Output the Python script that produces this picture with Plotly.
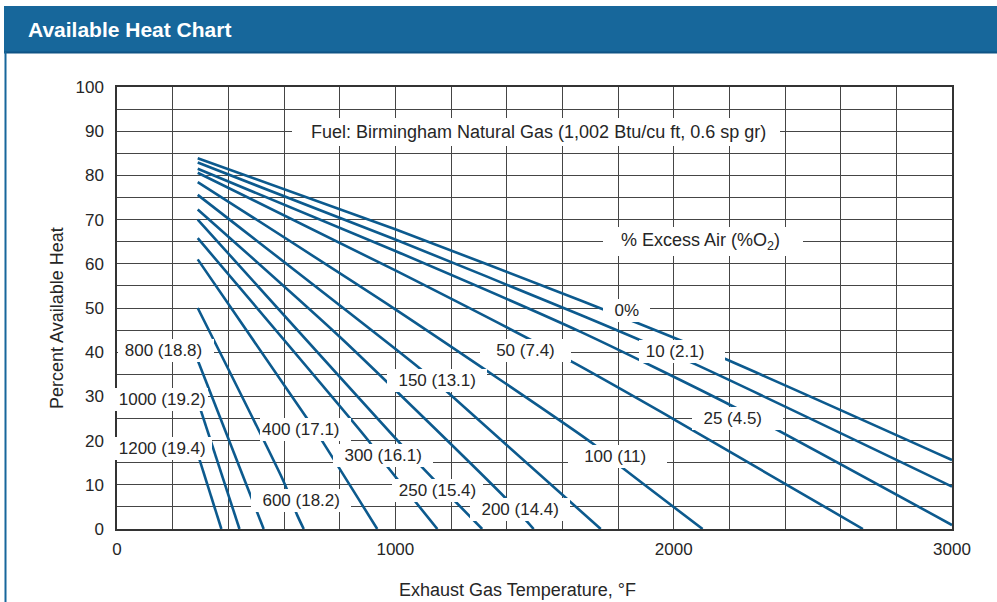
import plotly.graph_objects as go

# ---------------- data ----------------
excess_air_labels = ["0%", "10 (2.1)", "25 (4.5)", "50 (7.4)", "100 (11)", "150 (13.1)",
                     "200 (14.4)", "250 (15.4)", "300 (16.1)", "400 (17.1)", "600 (18.2)",
                     "800 (18.8)", "1000 (19.2)", "1200 (19.4)"]

temp_0 = [290, 1000, 1666, 2169, 3000]
heat_0 = [83.9, 67.8, 51.7, 38.9, 15.6]
temp_10 = [290, 1000, 1666, 2073, 3000]
heat_10 = [82.9, 65.5, 48.4, 37.4, 9.6]
temp_25 = [290, 1000, 1666, 2205, 3000]
heat_25 = [81.5, 62.9, 44.6, 28.0, 0.9]
temp_50 = [290, 1000, 1624, 2007, 2680]
heat_50 = [80.6, 58.5, 38.2, 24.6, 0.0]
temp_100 = [290, 1000, 1708, 1817, 2104]
heat_100 = [78.5, 49.7, 19.4, 13.8, 0.0]
temp_150 = [290, 1073, 1187, 1738]
heat_150 = [75.6, 37.1, 31.0, 0.0]
temp_200 = [290, 800, 1402, 1497]
heat_200 = [72.3, 43.5, 6.6, 0.0]
temp_250 = [290, 1084, 1205, 1312]
heat_250 = [70.0, 14.8, 6.9, 0.0]
temp_300 = [290, 907, 958, 1151]
heat_300 = [65.8, 19.7, 15.2, 0.0]
temp_400 = [290, 683, 731, 935]
heat_400 = [61.0, 25.0, 20.5, 0.0]
temp_600 = [290, 599, 647, 671]
heat_600 = [50.0, 10.7, 3.2, 0.0]
temp_800 = [290, 527]
heat_800 = [38.2, 0.0]
temp_1000 = [290, 440]
heat_1000 = [29.0, 0.0]
temp_1200 = [290, 375]
heat_1200 = [17.0, 0.0]

series_temps = [temp_0, temp_10, temp_25, temp_50, temp_100, temp_150, temp_200,
                temp_250, temp_300, temp_400, temp_600, temp_800, temp_1000, temp_1200]
series_heats = [heat_0, heat_10, heat_25, heat_50, heat_100, heat_150, heat_200,
                heat_250, heat_300, heat_400, heat_600, heat_800, heat_1000, heat_1200]

# label anchor points (temperature, percent heat) where each curve label sits
label_temp = [1829, 2030, 2231, 1466, 1798, 1149, 1448, 1153, 956, 677, 661, 176, 153, 162]
label_heat = [49.5, 40.1, 25.0, 40.4, 16.4, 33.7, 4.3, 8.8, 16.7, 22.5, 6.4, 40.3, 29.3, 18.2]

x_ticks = [0, 1000, 2000, 3000]
y_ticks = [0, 10, 20, 30, 40, 50, 60, 70, 80, 90, 100]

title_text = "Available Heat Chart"
fuel_text = "Fuel: Birmingham Natural Gas (1,002 Btu/cu ft, 0.6 sp gr)"
excess_text = "% Excess Air (%O<sub>2</sub>)"
x_title = "Exhaust Gas Temperature, °F"
y_title = "Percent Available Heat"

# ---------------- styling helpers ----------------
W, H = 997, 602
ML, MR, MT, MB = 117, 45, 87, 73
PW, PH = W - ML - MR, H - MT - MB


def px_x(px):
    return (px - ML) / PW


def px_y(py):
    return (H - MB - py) / PH


NB = "\u00a0"
# white-box padding (non-breaking spaces left/right) around each curve label
label_pad_left = [2, 1, 2, 3, 3, 2, 2, 1, 2, 0, 2, 1, 1, 1]
label_pad_right = [2, 4, 4, 3, 4, 2, 2, 1, 2, 2, 2, 2, 0, 1]

FONT = "Liberation Sans Narrow, Arial Narrow, Liberation Sans, Arial, sans-serif"
TXT = "#262626"
LINE = "#0c5a8e"
BLUE = "#17679b"
GRID = "#454545"

fig = go.Figure()
for name, t, h in zip(excess_air_labels, series_temps, series_heats):
    fig.add_trace(go.Scatter(x=t, y=h, mode="lines", name=name,
                             line=dict(color=LINE, width=2.6, shape="spline", smoothing=0.6),
                             hoverinfo="name+x+y", showlegend=False))

annotations = []
for name, t, h, pl, pr in zip(excess_air_labels, label_temp, label_heat, label_pad_left, label_pad_right):
    annotations.append(dict(x=t, y=h, xref="x", yref="y", text=NB * pl + name + NB * pr,
                            showarrow=False, font=dict(family=FONT, size=17, color=TXT),
                            bgcolor="white", borderpad=2, borderwidth=0))

annotations.append(dict(x=1505, y=89.8, xref="x", yref="y", text=NB * 3 + fuel_text + NB * 2,
                        showarrow=False, font=dict(family=FONT, size=18, color=TXT),
                        bgcolor="white", borderpad=4, borderwidth=0))
annotations.append(dict(x=2105, y=65.0, xref="x", yref="y", text=NB * 3 + excess_text + NB * 4,
                        showarrow=False, font=dict(family=FONT, size=18, color=TXT),
                        bgcolor="white", borderpad=3, borderwidth=0))

annotations.append(dict(x=px_x(517), y=px_y(590), xref="paper", yref="paper", text=x_title,
                        xanchor="center", yanchor="middle",
                        showarrow=False, font=dict(family=FONT, size=18, color=TXT)))
annotations.append(dict(x=px_x(57), y=px_y(318), xref="paper", yref="paper", text=y_title,
                        xanchor="center", yanchor="middle",
                        textangle=-90, showarrow=False, font=dict(family=FONT, size=18, color=TXT)))
annotations.append(dict(x=px_x(26), y=px_y(29), xref="paper", yref="paper", text="<b>" + title_text + "</b>",
                        xanchor="left", yanchor="middle", showarrow=False,
                        font=dict(family=FONT, size=21, color="white")))

shapes = [
    dict(type="rect", xref="paper", yref="paper", x0=px_x(4), x1=px_x(1000), y0=px_y(52), y1=px_y(6),
         fillcolor=BLUE, line=dict(width=0), layer="below"),
    dict(type="line", xref="paper", yref="paper", x0=px_x(4), x1=px_x(1000), y0=px_y(52.5), y1=px_y(52.5),
         line=dict(color="#0f5485", width=2)),
    dict(type="line", xref="paper", yref="paper", x0=px_x(5.5), x1=px_x(5.5), y0=px_y(52), y1=px_y(605),
         line=dict(color=BLUE, width=2)),
]

axis_common = dict(showline=True, linecolor="#333333", linewidth=1.5, mirror=True,
                   showgrid=True, gridcolor=GRID, gridwidth=1, zeroline=False,
                   ticks="outside", tickcolor="rgba(0,0,0,0)",
                   tickfont=dict(family=FONT, size=17, color=TXT), fixedrange=True)

fig.update_layout(
    width=W, height=H,
    margin=dict(l=ML, r=MR, t=MT, b=MB),
    paper_bgcolor="white", plot_bgcolor="white",
    xaxis=dict(range=[0, 3000], tickvals=x_ticks, ticklen=4,
               minor=dict(dtick=200, showgrid=True, gridcolor=GRID, gridwidth=1),
               **axis_common),
    yaxis=dict(range=[0, 100], tickvals=y_ticks, ticklen=8,
               minor=dict(dtick=5, showgrid=True, gridcolor=GRID, gridwidth=1),
               **axis_common),
    annotations=annotations,
    shapes=shapes,
)

fig.write_html("out.html", config={"displayModeBar": False},
               post_script="document.body.style.margin='0px';document.body.style.overflow='hidden';")
